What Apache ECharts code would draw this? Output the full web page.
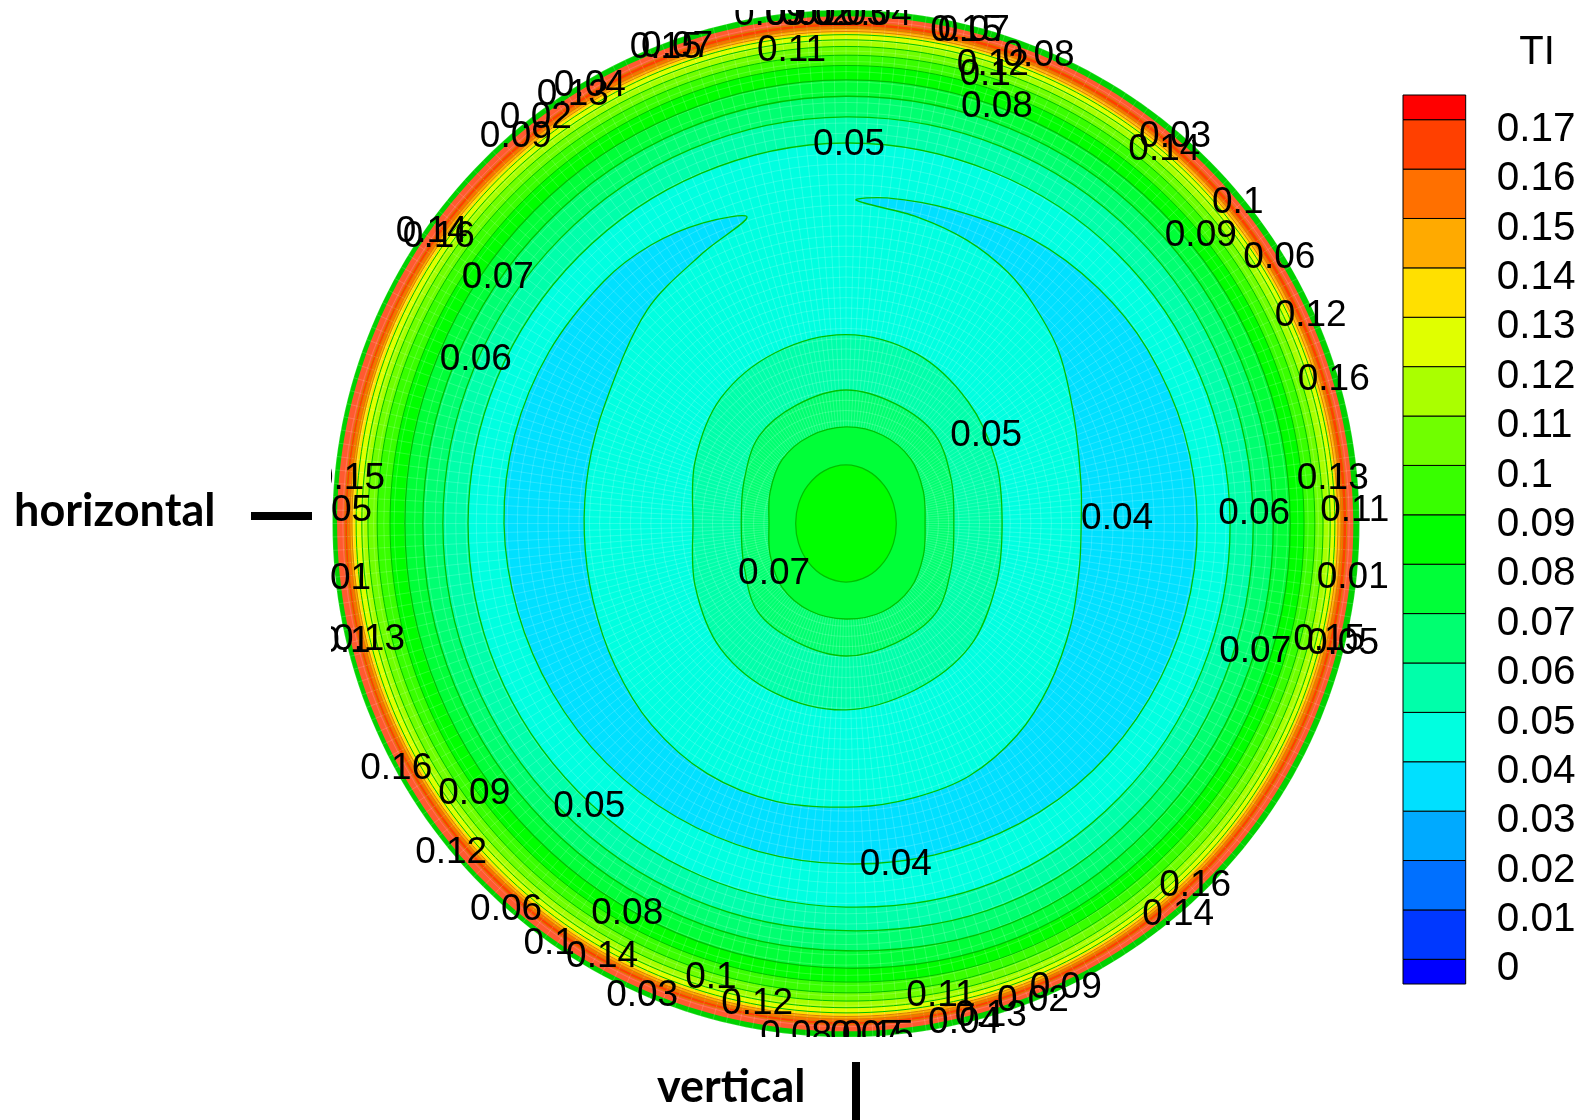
<!DOCTYPE html>
<html>
<head>
<meta charset="utf-8">
<style>html,body{margin:0;padding:0;background:#fff}#c{width:1581px;height:1120px}</style>
<script src="https://cdn.jsdelivr.net/npm/echarts@6/dist/echarts.min.js"></script>
</head>
<body>
<div id="c"></div>
<script>
// angle (deg clockwise from top) at which each contour radius was read
const angles = [0,22.5,45,67.5,90,112.5,135,157.5,180,202.5,225,247.5,270,292.5,315,337.5];
// contour radii as a fraction of the pipe radius
const rimWall = [1,1,1,1,1,1,1,1,1,1,1,1,1,1,1,1];
const rimRed  = [.988,.988,.988,.988,.988,.988,.988,.988,.989,.99,.991,.991,.991,.991,.99,.989];
const c017 = [.975,.975,.975,.975,.975,.975,.975,.976,.976,.976,.976,.976,.976,.976,.976,.976];
const c016 = [.968,.968,.968,.968,.968,.969,.969,.97,.97,.97,.97,.971,.971,.971,.97,.969];
const c015 = [.964,.964,.964,.964,.964,.964,.965,.966,.965,.965,.965,.966,.966,.966,.965,.964];
const c014 = [.958,.958,.958,.958,.958,.959,.96,.961,.96,.96,.96,.961,.962,.962,.96,.959];
const c013 = [.952,.952,.952,.952,.952,.953,.954,.955,.953,.953,.953,.954,.954,.954,.953,.952];
const c012 = [.942,.942,.943,.943,.943,.944,.945,.946,.943,.943,.943,.943,.943,.943,.943,.942];
const c011 = [.929,.929,.929,.929,.929,.931,.932,.934,.93,.93,.93,.931,.931,.931,.93,.929];
const c010 = [.912,.913,.913,.913,.913,.914,.915,.917,.914,.913,.912,.912,.913,.913,.912,.912];
const c009 = [.892,.892,.892,.892,.892,.894,.896,.899,.893,.891,.889,.888,.888,.888,.889,.891];
const c008 = [.864,.864,.864,.865,.865,.867,.87,.873,.866,.863,.86,.859,.859,.859,.86,.862];
const c007 = [.832,.833,.833,.832,.832,.835,.838,.842,.832,.829,.826,.825,.824,.824,.826,.829];
const c006 = [.792,.794,.795,.794,.793,.796,.8,.803,.793,.79,.787,.786,.785,.785,.786,.789];
const c005 = [.741,.742,.745,.747,.748,.75,.754,.756,.747,.742,.738,.737,.736,.736,.736,.738];
// low-TI crescent: radius and angle around its closed outline
const crescentR = [.63,.639,.645,.662,.672,.678,.682,.684,.684,.682,.68,.675,.668,.663,.661,.66,.66,.66,.662,.666,.668,.668,.667,.662,.648,.627,.596,.568,.524,.513,.51,.515,.528,.545,.557,.558,.552,.55,.547,.53,.506,.48,.462,.458,.464,.49,.532,.56,.582,.6,.613];
const crescentA = [1.8,7.2,18.4,33.2,47,60,75,90,105,120,135,150,165,180,195,210,225,240,255,270,285,300,315,325,334.6,342.1,332.1,317,296.5,282,267.7,253,238.5,224,209,194,178,166,154,141,128.6,114,100,90,80.5,65,51.3,41,32.8,23.1,13];
// central peak contours
const core005 = [.368,.358,.336,.316,.304,.316,.34,.351,.363,.358,.345,.318,.298,.318,.345,.36];
const core006 = [.26,.252,.245,.222,.21,.222,.247,.252,.258,.25,.243,.215,.204,.215,.24,.25];
const core007 = [.188,.186,.178,.163,.154,.163,.178,.186,.186,.184,.176,.16,.15,.16,.176,.184];
const core008 = [.114,.111,.105,.1,.098,.1,.105,.111,.114,.111,.105,.1,.098,.1,.105,.111];
// fill colours
const wallColor = '#00d200';
const redBand = '#ff5a30';
const outerLevels = [c017,c016,c015,c014,c013,c012,c011,c010,c009,c008,c007,c006,c005];
const outerColors = ['#ff4000','#ff7000','#ffaa00','#ffe000','#e0ff00','#aaff00','#70ff00','#38ff00','#00ff00','#00ff38','#00ff70','#00ffaa','#00ffe0'];
const coreLevelsA = [core005,core006];
const coreColorsA = ['#00ffaa','#00ff70'];
const coreLevelsB = [core007,core008];
const coreColorsB = ['#00ff38','#00ff00'];
const crescentColor = '#00e0ff';
// colour bar
const barEdges = [-0.005,0,0.01,0.02,0.03,0.04,0.05,0.06,0.07,0.08,0.09,0.1,0.11,0.12,0.13,0.14,0.15,0.16,0.17,0.175];
const barColors = ['#0000ff','#0038ff','#0070ff','#00aaff','#00e0ff','#00ffe0','#00ffaa','#00ff70','#00ff38','#00ff00','#38ff00','#70ff00','#aaff00','#e0ff00','#ffe000','#ffaa00','#ff7000','#ff4000','#ff0000'];
// contour labels
const labelText = ['0.09','0.01','0.02','0.03','0.04','0.15','0.07','0.15','0.07','0.11','0.12','0.1','0.08','0.08','0.05','0.13','0.04','0.02','0.09','0.03','0.14','0.1','0.09','0.06','0.12','0.16','0.13','0.11','0.01','0.15','0.05','0.07','0.06','0.04','0.05','0.07','0.14','0.16','0.07','0.06','0.15','0.05','0.01','0.13','0.1','0.16','0.09','0.05','0.12','0.06','0.08','0.1','0.14','0.03','0.1','0.12','0.08','0.07','0.15','0.11','0.04','0.13','0.02','0.09','0.16','0.14','0.04'];
const labelX = [-.148,-.086,-.058,.01,.058,.234,.249,-.351,-.329,-.106,.286,.271,.375,.294,.006,-.532,-.499,-.604,-.643,.641,.62,.763,.691,.844,.905,.95,.948,.991,.987,.941,.968,.797,.795,.528,.273,-.14,-.807,-.793,-.678,-.721,-.968,-.993,-.995,-.929,-.976,-.876,-.724,-.5,-.769,-.662,-.426,-.578,-.475,-.397,-.263,-.173,-.097,.039,.062,.185,.23,.282,.364,.428,.68,.647,.097];
const labelY = [.995,.995,.995,.995,.995,.965,.965,.932,.934,.925,.898,.878,.915,.817,.743,.84,.858,.794,.758,.758,.733,.629,.566,.523,.409,.285,.091,.03,-.1,-.221,-.229,-.245,.024,.014,.175,-.094,.572,.564,.484,.324,.091,.03,-.102,-.221,-.225,-.472,-.522,-.547,-.636,-.748,-.756,-.813,-.838,-.914,-.879,-.93,-.992,-.992,-.992,-.914,-.967,-.953,-.924,-.899,-.7,-.758,-.659];

const FONT = '"Liberation Sans", Arial, sans-serif';
const LINE = '#00c000';
const RIM_LINE = '#d88000';
const MESH = 'rgba(255,255,255,0.17)';

const outerRows = [
  { radii: rimWall, fill: wallColor, stroke: null },
  { radii: rimRed, fill: redBand, stroke: null }
].concat(outerLevels.map((r, i) => ({ radii: r, fill: outerColors[i], stroke: i < 4 ? RIM_LINE : LINE, width: i < 9 ? 1 : 1.3 })));
const coreRowsA = coreLevelsA.map((r, i) => ({ radii: r, fill: coreColorsA[i], stroke: LINE, width: 1.3 }));
const coreRowsB = coreLevelsB.map((r, i) => ({ radii: r, fill: coreColorsB[i], stroke: LINE, width: 1.3 }));
const lineRows = outerRows.slice(2).concat(coreRowsA);

function fillRows(rows) {
  return (params, api) => ({
    type: 'polygon', z2: params.dataIndex,
    shape: { points: rows[params.dataIndex].radii.map((r, i) => api.coord([r, angles[i]])), smooth: 0.343 },
    style: { fill: rows[params.dataIndex].fill }
  });
}
function strokeRows(rows) {
  return (params, api) => ({
    type: 'polygon', z2: params.dataIndex,
    shape: { points: rows[params.dataIndex].radii.map((r, i) => api.coord([r, angles[i]])), smooth: 0.343 },
    style: { fill: 'none', stroke: rows[params.dataIndex].stroke, lineWidth: rows[params.dataIndex].width }
  });
}
function crescent(style) {
  return (params, api) => ({
    type: 'polygon',
    shape: { points: crescentR.map((r, i) => api.coord([r, crescentA[i]])), smooth: 0.33 },
    style: style
  });
}
const dummy = rows => rows.map(() => [0.5, 0]);
const polarCustom = (z, renderItem, data) => ({
  type: 'custom', coordinateSystem: 'polar', z: z, clip: false, silent: true, renderItem: renderItem, data: data
});

const chart = echarts.init(document.getElementById('c'), null, { renderer: 'canvas' });
chart.setOption({
  animation: false,
  backgroundColor: '#fff',
  polar: { center: [846, 523.5], radius: 513.5 },
  angleAxis: {
    type: 'value', min: 0, max: 360, interval: 1.5, startAngle: 90, clockwise: true, z: 3,
    axisLine: { show: false }, axisTick: { show: false }, axisLabel: { show: false },
    splitLine: { show: true, lineStyle: { color: MESH, width: 1, type: 'solid' } }
  },
  radiusAxis: {
    type: 'value', min: 0, max: 1, interval: 0.02, z: 3,
    axisLine: { show: false }, axisTick: { show: false }, axisLabel: { show: false },
    splitLine: { show: true, lineStyle: { color: MESH, width: 1, type: 'solid' } }
  },
  grid: [
    { left: 331, top: 10, width: 1069, height: 1027 },
    { left: 1403, top: 95, width: 62.7, height: 889 },
    { left: 1403, top: 105, width: 62.7, height: 889 }
  ],
  xAxis: [
    { type: 'value', gridIndex: 0, min: -1.003, max: 1.079, show: false },
    { type: 'value', gridIndex: 1, min: 0, max: 1, show: false },
    { type: 'value', gridIndex: 2, min: 0, max: 1, show: false }
  ],
  yAxis: [
    { type: 'value', gridIndex: 0, min: -1, max: 1, show: false },
    { type: 'value', gridIndex: 1, min: -0.005, max: 0.175, show: false },
    {
      type: 'value', gridIndex: 2, min: -0.005, max: 0.175, interval: 0.005, position: 'right',
      axisLine: { show: false }, axisTick: { show: false }, splitLine: { show: false },
      axisLabel: {
        show: true, margin: 31, fontFamily: FONT, fontSize: 40.5, color: '#000', align: 'left',
        formatter: v => {
          const k = Math.round(v * 1000);
          return (k >= 0 && k <= 170 && k % 10 === 0) ? String(Number((k / 1000).toFixed(2))) : '';
        }
      }
    }
  ],
  title: [
    { text: 'TI', left: 1537, top: 53, padding: 0, textAlign: 'center', textVerticalAlign: 'middle',
      textStyle: { fontFamily: FONT, fontSize: 40, fontWeight: 'normal', color: '#000' } },
    { text: 'horizontal', left: 14, top: 511, padding: 0, textVerticalAlign: 'middle',
      textStyle: { fontFamily: 'Lato, sans-serif', fontSize: 45, fontWeight: 'bold', color: '#000' } },
    { text: 'vertical', left: 657, top: 1087, padding: 0, textVerticalAlign: 'middle',
      textStyle: { fontFamily: 'Lato, sans-serif', fontSize: 45, fontWeight: 'bold', color: '#000' } }
  ],
  graphic: [
    { type: 'rect', shape: { x: 251, y: 512, width: 61, height: 8 }, style: { fill: '#000' } },
    { type: 'rect', shape: { x: 852, y: 1062, width: 8, height: 58 }, style: { fill: '#000' } }
  ],
  series: [
    polarCustom(2, fillRows(outerRows), dummy(outerRows)),
    polarCustom(2.1, crescent({ fill: crescentColor }), [[0.5, 0]]),
    polarCustom(2.2, fillRows(coreRowsA), dummy(coreRowsA)),
    polarCustom(3.5, strokeRows(lineRows), dummy(lineRows)),
    polarCustom(3.6, crescent({ fill: 'none', stroke: LINE, lineWidth: 1.3 }), [[0.5, 0]]),
    polarCustom(4, (params, api) => {
      const row = coreRowsB[params.dataIndex];
      return {
        type: 'polygon', z2: params.dataIndex,
        shape: { points: row.radii.map((r, i) => api.coord([r, angles[i]])), smooth: 0.343 },
        style: { fill: row.fill, stroke: row.stroke, lineWidth: row.width }
      };
    }, dummy(coreRowsB)),
    { type: 'custom', coordinateSystem: 'cartesian2d', xAxisIndex: 0, yAxisIndex: 0, z: 6, clip: true, silent: true,
      renderItem: (params, api) => {
        const p = api.coord([api.value(0), api.value(1)]);
        return { type: 'text', style: { text: labelText[params.dataIndex], x: p[0], y: p[1] + 2.5,
          font: '37px ' + FONT, fill: '#000', align: 'center', verticalAlign: 'middle' } };
      },
      data: labelX.map((x, i) => [x, labelY[i]]) },
    { type: 'custom', coordinateSystem: 'cartesian2d', xAxisIndex: 1, yAxisIndex: 1, z: 6, clip: false, silent: true,
      renderItem: (params, api) => {
        const i = params.dataIndex;
        const a = api.coord([0, barEdges[i]]);
        const b = api.coord([1, barEdges[i + 1]]);
        return { type: 'rect', shape: { x: a[0], y: b[1], width: b[0] - a[0], height: a[1] - b[1] },
          style: { fill: barColors[i], stroke: '#000', lineWidth: 1 } };
      },
      data: barColors.map((c, i) => [0.5, barEdges[i]]) }
  ]
});
</script>
</body>
</html>
